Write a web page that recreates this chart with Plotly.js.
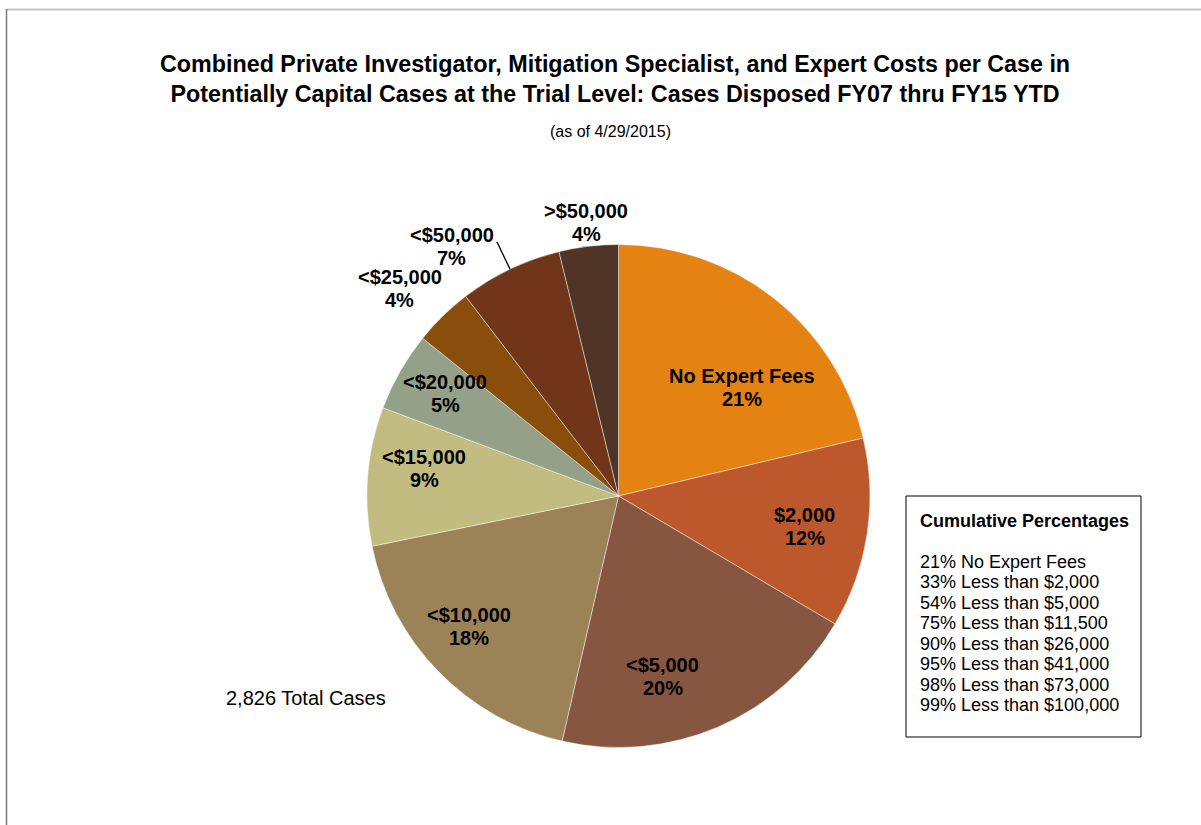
<!DOCTYPE html>
<html>
<head>
<meta charset="utf-8">
<script src="https://cdn.plot.ly/plotly-3.0.1.min.js"></script>
<style>
html,body{margin:0;padding:0;background:#fff;}
#chart{width:1201px;height:825px;}
</style>
</head>
<body>
<div id="chart"></div>
<script>
// ---- data ----
const categories = ['No Expert Fees', '$2,000', '<$5,000', '<$10,000', '<$15,000', '<$20,000', '<$25,000', '<$50,000', '>$50,000'];
const sharePct = [21.3, 12.2, 20.1, 18.2, 8.9, 5.1, 3.8, 6.6, 3.8];
const cumulativePct = [21, 33, 54, 75, 90, 95, 98, 99];
const cumulativeText = ['No Expert Fees', 'Less than $2,000', 'Less than $5,000', 'Less than $11,500', 'Less than $26,000', 'Less than $41,000', 'Less than $73,000', 'Less than $100,000'];
const totalCases = '2,826';

// ---- styles ----
const colors = ['#E48312', '#BD582C', '#865640', '#9B8357', '#C2BC80', '#94A088', '#894E0B', '#71351A', '#503426'];
const labelRadius = [0.655, 0.75, 0.74, 0.79, 0.78, 0.80, 1.20, 1.12, 1.095];
const labelShiftDeg = [10.4, 0.8, 9.5, 3.3, 3.7, 0.9, -2.2, 0, 0.1];
const leaderIdx = 7;

const W = 1201, H = 825;
const pieBox = {left: 367, right: 870, top: 244.5, bottom: 747.5};
const cx = (pieBox.left + pieBox.right) / 2, cy = (pieBox.top + pieBox.bottom) / 2;
const R = (pieBox.right - pieBox.left) / 2;
const PX = x => x / W, PY = y => 1 - y / H;
const FONT = 'Liberation Sans, Arial, sans-serif';
const LABEL_SIZE = 20, LABEL_GAP = 23;

const total = sharePct.reduce((a, b) => a + b, 0);
const annotations = [];
const shapes = [];

function textAt(x, y, txt, size, xanchor, bold) {
  annotations.push({xref: 'paper', yref: 'paper', x: PX(x), y: PY(y), xanchor: xanchor || 'center', yanchor: 'middle',
    text: bold ? '<b>' + txt + '</b>' : txt, showarrow: false, align: 'center',
    font: {family: FONT, size: size, color: '#000'}});
}

let cum = 0;
sharePct.forEach((v, i) => {
  const midDeg = (cum + v / 2) / total * 360;
  cum += v;
  const pct = Math.round(v / total * 100) + '%';
  if (i === leaderIdx) {
    const t = midDeg * Math.PI / 180;
    const x0 = cx + R * Math.sin(t), y0 = cy - R * Math.cos(t);
    const x1 = cx + R * labelRadius[i] * Math.sin(t), y1 = cy - R * labelRadius[i] * Math.cos(t);
    shapes.push({type: 'line', xref: 'paper', yref: 'paper', x0: PX(x0), y0: PY(y0), x1: PX(x1), y1: PY(y1), line: {color: '#000', width: 1.3}});
    const w = 86; // approx. label width, label sits left of the leader end
    textAt(x1 - 2 - w / 2, y1 + 5 - LABEL_GAP / 2, categories[i], LABEL_SIZE, 'center', true);
    textAt(x1 - 2 - w / 2, y1 + 5 + LABEL_GAP / 2, pct, LABEL_SIZE, 'center', true);
  } else {
    const t = (midDeg + labelShiftDeg[i]) * Math.PI / 180;
    const x = cx + R * labelRadius[i] * Math.sin(t), y = cy - R * labelRadius[i] * Math.cos(t);
    textAt(x, y - LABEL_GAP / 2, categories[i], LABEL_SIZE, 'center', true);
    textAt(x, y + LABEL_GAP / 2, pct, LABEL_SIZE, 'center', true);
  }
});

// title
annotations.push({xref: 'paper', yref: 'paper', x: PX(615), y: PY(79), xanchor: 'center', yanchor: 'middle', showarrow: false,
  text: '<b>Combined Private Investigator, Mitigation Specialist, and Expert Costs per Case in<br>Potentially Capital Cases at the Trial Level: Cases Disposed FY07 thru FY15 YTD</b>',
  font: {family: 'Liberation Sans Narrow, Arial Narrow, Liberation Sans, sans-serif', size: 23.3, color: '#000'}});
textAt(610, 131, '(as of 4/29/2015)', 16, 'center', false);

// total cases
textAt(306, 698, totalCases + ' Total Cases', 20, 'center', false);

// cumulative box
textAt(918, 521, 'Cumulative Percentages', 18, 'left', true);
cumulativePct.forEach((p, i) => {
  textAt(918, 562 + i * 20.45, p + '% ' + cumulativeText[i], 18, 'left', false);
});
shapes.push({type: 'rect', xref: 'paper', yref: 'paper', x0: PX(906), x1: PX(1141), y0: PY(496), y1: PY(737), line: {color: '#000', width: 1}, fillcolor: 'rgba(0,0,0,0)'});

// frame lines
shapes.push({type: 'line', xref: 'paper', yref: 'paper', x0: PX(6), x1: 1, y0: PY(9.5), y1: PY(9.5), line: {color: '#c4c4c4', width: 2}});
shapes.push({type: 'line', xref: 'paper', yref: 'paper', x0: PX(6.5), x1: PX(6.5), y0: PY(9), y1: 0, line: {color: '#7a7a7a', width: 1.5}});

const trace = {
  type: 'pie',
  labels: categories,
  values: sharePct,
  sort: false,
  direction: 'clockwise',
  rotation: 0,
  textinfo: 'none',
  hoverinfo: 'label+percent',
  marker: {colors: colors, line: {color: 'rgba(255,255,255,0.55)', width: 0.8}},
  domain: {x: [PX(pieBox.left), PX(pieBox.right)], y: [PY(pieBox.bottom), PY(pieBox.top)]},
  showlegend: false
};

const layout = {
  width: W, height: H,
  margin: {l: 0, r: 0, t: 0, b: 0},
  paper_bgcolor: '#fff',
  showlegend: false,
  annotations: annotations,
  shapes: shapes
};

Plotly.newPlot('chart', [trace], layout, {displayModeBar: false, staticPlot: true});
</script>
</body>
</html>
